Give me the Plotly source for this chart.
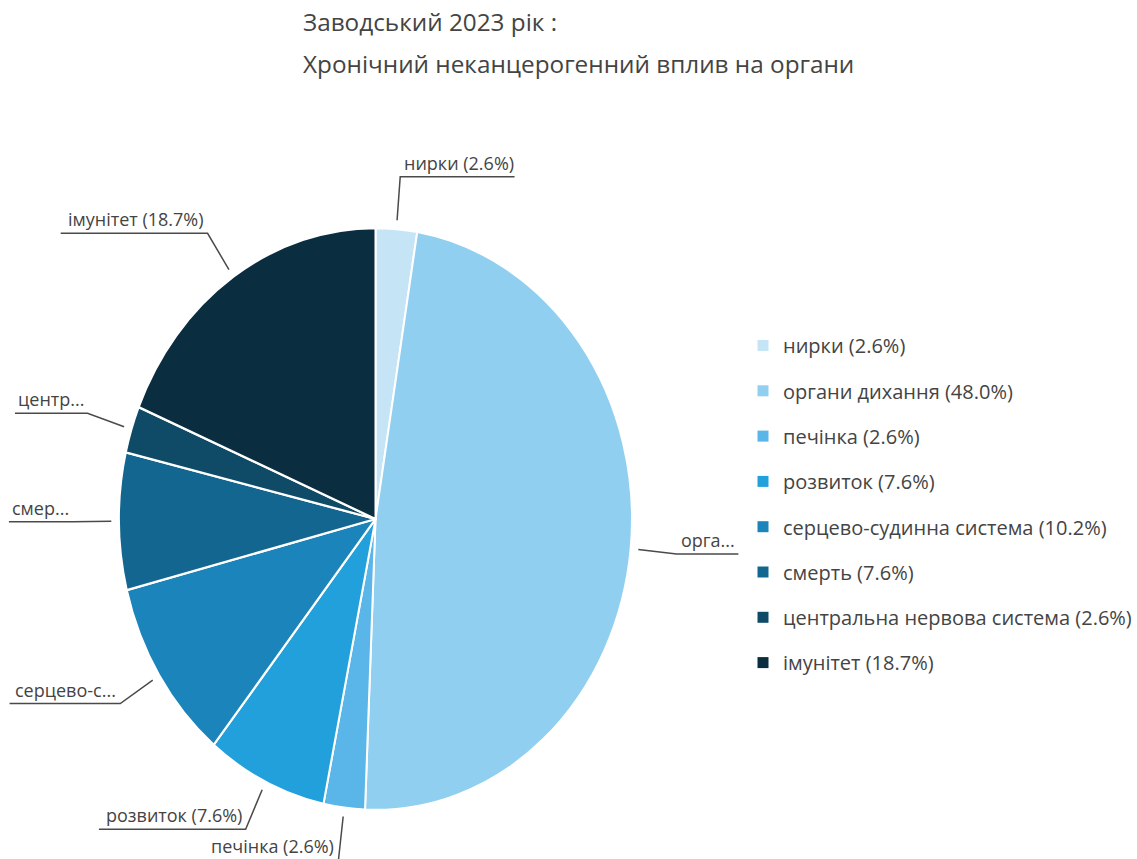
import math
import plotly.graph_objects as go

# Organ groups and their shares (%)
categories = [
    "нирки",
    "органи дихання",
    "печінка",
    "розвиток",
    "серцево-судинна система",
    "смерть",
    "центральна нервова система",
    "імунітет",
]
shares = [2.6, 48.0, 2.6, 7.6, 10.2, 7.6, 2.6, 18.7]
# Short callout captions used next to the pie (long names are cut)
callouts = [
    "нирки (2.6%)",
    "орга...",
    "печінка (2.6%)",
    "розвиток (7.6%)",
    "серцево-с...",
    "смер...",
    "центр...",
    "імунітет (18.7%)",
]
colors = ["#c5e5f7", "#91cff1", "#5ab5e8", "#22a0dc",
          "#1b84ba", "#13668f", "#0f4a66", "#0a2d40"]

title_lines = ["Заводський 2023 рік :", "Хронічний неканцерогенний вплив на органи"]

W, H = 1137, 859
FONT = "Open Sans"
TXT = "#444444"

# pie geometry in pixels (drawn as a circle, then stretched vertically)
cx, cy, rx, ry = 375.5, 519.0, 256.5, 291.0

total = sum(shares)
legend_names = [f"{c} ({v / total * 100:.1f}%)" for c, v in zip(categories, shares)]


def px(x):
    return x / W


def py(y):
    return 1 - y / H


def text_width(s, size):
    narrow = {".": 0.27, "(": 0.31, ")": 0.31, " ": 0.26, "-": 0.32, "і": 0.26}
    wide = {"%": 0.84, "м": 0.72}
    w = 0.0
    for ch in s:
        if ch in narrow:
            w += narrow[ch]
        elif ch in wide:
            w += wide[ch]
        elif ch.isdigit():
            w += 0.57
        else:
            w += 0.6
    return w * size


fig = go.Figure()

fig.add_trace(go.Pie(
    labels=legend_names,
    values=shares,
    sort=False,
    direction="clockwise",
    rotation=0,
    textinfo="none",
    hovertemplate="%{label}<extra></extra>",
    marker=dict(colors=colors, line=dict(color="white", width=2)),
    domain=dict(x=[px(cx - rx), px(cx + rx)], y=[py(cy + rx), py(cy - rx)]),
    showlegend=False,
))

# legend entries, one group each so they can be spaced out
for name, col in zip(legend_names, colors):
    fig.add_trace(go.Scatter(
        x=[None], y=[None], mode="markers", name=name, legendgroup=name,
        marker=dict(symbol="square", size=11, color=col),
        hoverinfo="skip",
    ))

# callout leader lines and captions
CS = 18
shapes, annotations = [], []
cum = 0.0
for v, cap in zip(shares, callouts):
    mid = (cum + v / 2) / total
    cum += v
    th = 2 * math.pi * mid
    sx, sy = math.sin(th), -math.cos(th)
    x0, y0 = cx + 1.03 * rx * sx, cy + 1.03 * ry * sy
    x1, y1 = cx + 1.18 * rx * sx, cy + 1.18 * ry * sy
    w = text_width(cap, CS) + 4
    right = sx > 0
    x2 = x1 + w if right else x1 - w
    shapes.append(dict(
        type="path", xref="paper", yref="paper",
        path=f"M{px(x0)},{py(y0)} L{px(x1)},{py(y1)} L{px(x2)},{py(y1)}",
        line=dict(color="#4a4a4a", width=1.5),
    ))
    annotations.append(dict(
        text=cap, xref="paper", yref="paper", showarrow=False,
        x=px(x1 + 2) if right else px(x1 - 2), y=py(y1),
        xanchor="left" if right else "right", yanchor="bottom", yshift=0,
        font=dict(family=FONT, size=CS, color=TXT),
    ))

for i, line in enumerate(title_lines):
    annotations.append(dict(
        text=line, xref="paper", yref="paper", showarrow=False,
        x=px(301), y=py(22 + 41 * i), xanchor="left", yanchor="middle",
        font=dict(family=FONT, size=24.3, color=TXT),
    ))

fig.update_layout(
    width=W, height=H,
    margin=dict(l=0, r=0, t=0, b=0),
    paper_bgcolor="white", plot_bgcolor="white",
    font=dict(family=FONT, color=TXT),
    xaxis=dict(visible=False), yaxis=dict(visible=False),
    legend=dict(
        x=px(743), y=py(326), xanchor="left", yanchor="top",
        font=dict(family=FONT, size=20, color=TXT),
        tracegroupgap=16.3, itemclick=False, itemdoubleclick=False,
    ),
    shapes=shapes,
    annotations=annotations,
)

# stretch the pie layer vertically about its centre
k = ry / rx
stretch_js = (
    "var gd=document.getElementById('{plot_id}');"
    "function stretchPie(){var L=gd.querySelector('.pielayer');"
    "if(L){L.setAttribute('transform','translate(0,%.2f) scale(1,%.5f) translate(0,%.2f)');}}"
    "stretchPie();gd.on('plotly_afterplot',stretchPie);" % (cy, k, -cy)
)

fig.write_html("out.html", post_script=stretch_js)
